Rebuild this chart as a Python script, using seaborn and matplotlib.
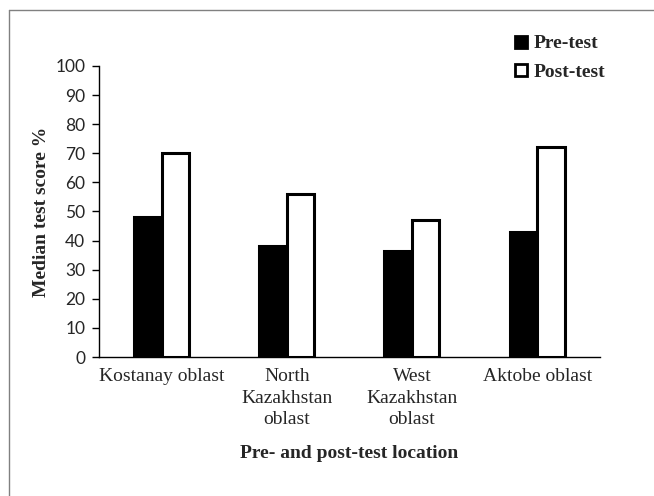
import matplotlib
matplotlib.use("Agg")
import matplotlib.pyplot as plt
import seaborn as sns
import pandas as pd
from matplotlib.lines import Line2D

# values
locations = ["Kostanay oblast", "North\nKazakhstan\noblast", "West\nKazakhstan\noblast", "Aktobe oblast"]
pre_test = [48, 38, 36.5, 43]
post_test = [70, 56, 47, 72]
tests = ["Pre-test", "Post-test"]

df = pd.DataFrame({
    "location": locations * 2,
    "test": [tests[0]] * len(locations) + [tests[1]] * len(locations),
    "score": pre_test + post_test,
})

sns.set_style("white")
plt.rcParams["font.family"] = ["Liberation Serif", "DejaVu Serif"]

fig = plt.figure(figsize=(6.54, 4.96), dpi=100)
ax = fig.add_axes([0.1514, 0.2802, 0.7656, 0.5868])

sns.barplot(
    data=df, x="location", y="score", hue="test",
    palette={"Pre-test": "black", "Post-test": "white"},
    edgecolor="black", linewidth=2.2, width=0.44, ax=ax, legend=False,
)

ax.set_ylim(0, 100)
ax.set_yticks(range(0, 101, 10))
ax.set_xlim(-0.5, 3.5)
for lbl in ax.get_yticklabels():
    lbl.set_fontfamily("Lato")
    lbl.set_fontsize(12.5)
ax.tick_params(axis="y", direction="out", length=5, width=1, color="black", left=True, pad=5)
ax.tick_params(axis="x", length=0, pad=8)
ax.set_xticks(range(len(locations)))
ax.set_xticklabels(locations, fontsize=14, linespacing=1.35)

for side in ["top", "right"]:
    ax.spines[side].set_visible(False)
for side in ["left", "bottom"]:
    ax.spines[side].set_color("black")
    ax.spines[side].set_linewidth(1)

ax.set_ylabel("Median test score %", fontsize=14, fontweight="bold", labelpad=4)
ax.set_xlabel("Pre- and post-test location", fontsize=14, fontweight="bold", labelpad=12)

handles = [
    Line2D([], [], marker="s", linestyle="none", markersize=9,
           markerfacecolor="black", markeredgecolor="black", markeredgewidth=2),
    Line2D([], [], marker="s", linestyle="none", markersize=9,
           markerfacecolor="white", markeredgecolor="black", markeredgewidth=2),
]
fig.legend(handles, tests, loc="upper left", bbox_to_anchor=(0.752, 0.965),
           frameon=False, handletextpad=0.05, labelspacing=0.55, handlelength=1.2,
           prop={"family": "Liberation Serif", "weight": "bold", "size": 14})

# gray frame around the figure (left and top edges visible)
fig.add_artist(Line2D([0.0138, 0.0138], [0, 0.98], color="#808080", lw=1, transform=fig.transFigure))
fig.add_artist(Line2D([0.0138, 1], [0.98, 0.98], color="#808080", lw=1, transform=fig.transFigure))

fig.savefig("out.png", dpi=100)
